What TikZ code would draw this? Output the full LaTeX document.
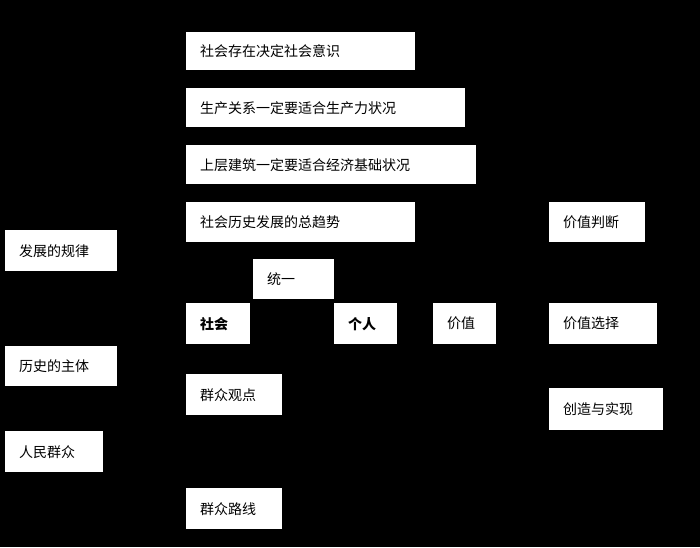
\documentclass[tikz,border=0pt]{standalone}
\usepackage{fontspec}
\newfontfamily\cjk{Noto Sans CJK SC}
\usetikzlibrary{positioning}

\begin{document}
\begin{tikzpicture}[x=1pt,y=-1pt,
  box/.style={fill=white,anchor=north west,inner sep=0pt,
    font=\cjk\fontsize{14}{16}\selectfont,text=black},
  boldbox/.style={box,font=\cjk\bfseries\fontsize{14}{16}\selectfont}]
\fill[black] (0,0) rectangle (700,547);
\useasboundingbox (0,0) rectangle (700,547);
% box: name, x1, y1, x2, y2, style, text
\newcommand{\bx}[7]{%
  \node[#6,minimum width=#4pt-#2pt,minimum height=#5pt-#3pt,
    text width=#4pt-#2pt-28pt,align=left] (#1) at (#2,#3) {\hspace*{0pt}#7};}
\bx{cunzai}{186}{32}{415}{70}{box}{社会存在决定社会意识}
\bx{shengchan}{186}{88}{465}{127}{box}{生产关系一定要适合生产力状况}
\bx{shangceng}{186}{145}{476}{184}{box}{上层建筑一定要适合经济基础状况}
\bx{qushi}{186}{202}{415}{242}{box}{社会历史发展的总趋势}
\bx{guilv}{5}{230}{117}{271}{box}{发展的规律}
\bx{tongyi}{253}{259}{334}{299}{box}{统一}
\bx{shehui}{186}{303}{250}{344}{boldbox}{社会}
\bx{geren}{334}{303}{397}{344}{boldbox}{个人}
\bx{jiazhi}{433}{303}{496}{344}{box}{价值}
\bx{panduan}{549}{202}{645}{242}{box}{价值判断}
\bx{xuanze}{549}{303}{657}{344}{box}{价值选择}
\bx{zhuti}{5}{346}{117}{386}{box}{历史的主体}
\bx{guandian}{186}{374}{282}{415}{box}{群众观点}
\bx{chuangzao}{549}{388}{663}{430}{box}{创造与实现}
\bx{renmin}{5}{431}{103}{472}{box}{人民群众}
\bx{luxian}{186}{488}{282}{529}{box}{群众路线}
\end{tikzpicture}
\end{document}
